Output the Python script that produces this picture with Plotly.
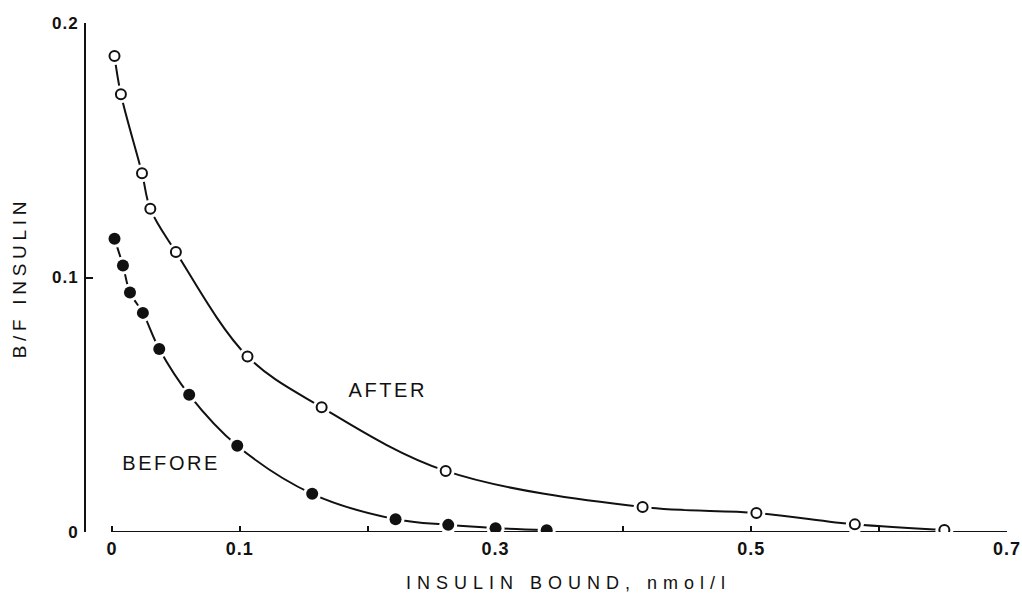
import plotly.graph_objects as go

# Data
after_x = [0.002, 0.007, 0.0235, 0.030, 0.050, 0.106, 0.164, 0.261, 0.415, 0.504, 0.581, 0.651]
after_y = [0.187, 0.172, 0.141, 0.127, 0.110, 0.069, 0.049, 0.024, 0.0098, 0.0075, 0.003, 0.0008]
before_x = [0.002, 0.0086, 0.0141, 0.0242, 0.037, 0.0604, 0.098, 0.1566, 0.2218, 0.263, 0.300, 0.340]
before_y = [0.1152, 0.1047, 0.0941, 0.0861, 0.0719, 0.0539, 0.0339, 0.0150, 0.0050, 0.0028, 0.0015, 0.0007]

x_tickvals = [0, 0.1, 0.2, 0.3, 0.4, 0.5, 0.6, 0.7]
x_ticktext = ["0", "0.1", "", "0.3", "", "0.5", "", "0.7"]
y_tickvals = [0, 0.1, 0.2]
y_ticktext = ["0", "0.1", "0.2"]

FONT = "Liberation Sans, Arial, sans-serif"
BLACK = "#111111"

fig = go.Figure()

for xs, ys in [(after_x, after_y), (before_x, before_y)]:
    fig.add_trace(go.Scatter(x=xs, y=ys, mode="lines",
                             line=dict(color=BLACK, width=2, shape="spline", smoothing=1.0),
                             hoverinfo="skip", showlegend=False))
# white halos to break the line around markers
for xs, ys in [(after_x, after_y), (before_x, before_y)]:
    fig.add_trace(go.Scatter(x=xs, y=ys, mode="markers",
                             marker=dict(color="white", size=18, line=dict(width=0)),
                             hoverinfo="skip", showlegend=False))

fig.add_trace(go.Scatter(x=after_x, y=after_y, mode="markers", name="AFTER",
                         marker=dict(color="white", size=10, line=dict(color=BLACK, width=2)),
                         showlegend=False))
fig.add_trace(go.Scatter(x=before_x, y=before_y, mode="markers", name="BEFORE",
                         marker=dict(color=BLACK, size=12, line=dict(color=BLACK, width=0)),
                         showlegend=False))

# x axis line starting at 0 (gap from y axis as in reference)
fig.add_shape(type="line", xref="x", yref="y", x0=0, x1=0.7, y0=0, y1=0,
              line=dict(color=BLACK, width=2), layer="below")

fig.update_layout(
    width=1022, height=597,
    margin=dict(l=86, r=15, t=23, b=65),
    paper_bgcolor="white", plot_bgcolor="white",
    font=dict(family=FONT, color=BLACK),
    xaxis=dict(range=[-0.0203, 0.7], showgrid=False, zeroline=False, showline=False,
               automargin=False,
               tickmode="array", tickvals=x_tickvals, ticktext=x_ticktext,
               ticks="inside", ticklen=6, tickwidth=1.5, tickcolor=BLACK,
               tickfont=dict(size=18, family=FONT, color=BLACK, weight="bold"),
               ticklabelstandoff=4),
    yaxis=dict(range=[0, 0.2], showgrid=False, zeroline=False, showline=True,
               automargin=False,
               linecolor=BLACK, linewidth=2,
               tickmode="array", tickvals=y_tickvals, ticktext=y_ticktext,
               ticks="inside", ticklen=7, tickwidth=1.5, tickcolor=BLACK,
               tickfont=dict(size=17, family=FONT, color=BLACK, weight="bold"),
               ticklabelstandoff=2),
    annotations=[
        dict(text="AFTER", x=0.2158, y=0.0559, xref="x", yref="y", showarrow=False,
             font=dict(size=20, family=FONT, color=BLACK)),
        dict(text="BEFORE", x=0.0461, y=0.0272, xref="x", yref="y", showarrow=False,
             font=dict(size=20, family=FONT, color=BLACK)),
        dict(text="INSULIN BOUND, nmol/l", x=0.3573, y=-0.1002, xref="x", yref="paper",
             xanchor="center", showarrow=False, yanchor="middle",
             font=dict(size=18, family=FONT, color=BLACK)),
        dict(text="B/F INSULIN", x=-0.0717, y=0.1, xref="paper", yref="y",
             xanchor="center", yanchor="middle",
             showarrow=False, textangle=-90, font=dict(size=19, family=FONT, color=BLACK)),
    ],
)

post = """
document.body.style.margin = '0';
document.body.style.padding = '0';
var gd = document.getElementById('{plot_id}');
function applyLS(){
  var sp = {'0': '2.6px', '1': '2.6px', '2': '6px', '3': '4.7px'};
  gd.querySelectorAll('g.annotation').forEach(function(g){
    var i = g.getAttribute('data-index');
    var t = g.querySelector('text.annotation-text');
    if (t && sp[i]) { t.style.letterSpacing = sp[i]; }
  });
  gd.querySelectorAll('.xtick text, .ytick text').forEach(function(t){ t.style.letterSpacing = '1px'; });
}
applyLS();
if (gd.on) { gd.on('plotly_afterplot', applyLS); }
"""

fig.write_html("out.html", post_script=post, config={"displayModeBar": False})
